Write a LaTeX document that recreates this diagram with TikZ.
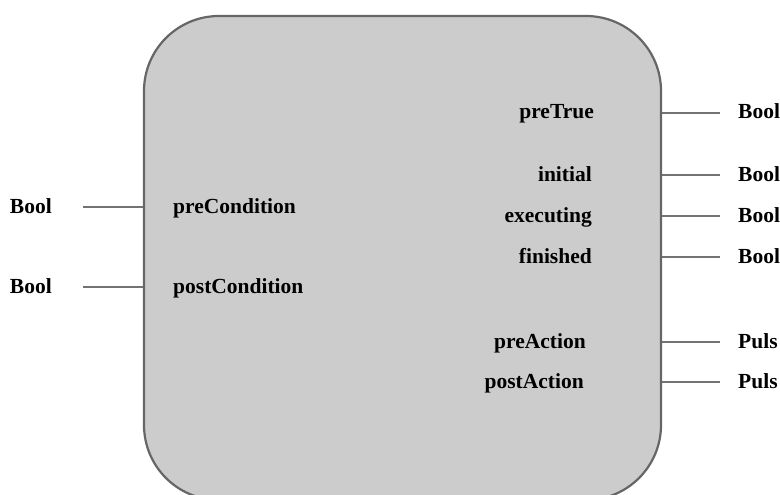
\documentclass[tikz,border=0pt]{standalone}
\usepackage{fontspec}
\setmainfont{Liberation Serif}
\usetikzlibrary{positioning}

\begin{document}
\begin{tikzpicture}[x=1pt, y=-1pt, font=\bfseries\fontsize{21.5}{24}\selectfont,
    lbl/.style={inner ysep=0pt, text height=13pt, text depth=1pt},
    typ/.style={lbl, inner xsep=18pt, anchor=west},
    pin/.style={draw=black!55, line width=2.4pt}]
  \useasboundingbox (0,0) rectangle (780,495);
  % function block
  \begin{scope}
    \clip (0,0) rectangle (780,495);
    \node[draw=black!60, line width=2.2pt, fill=black!20, rounded corners=75pt,
          minimum width=517pt, minimum height=484pt, inner sep=0pt] (blk) at (402.5,258) {};
  \end{scope}
  % inputs
  \foreach \nm/\y in {preCondition/207, postCondition/287} {
    \node[lbl, anchor=west, inner xsep=0pt] (in-\nm) at (173,\y) {\nm};
    \node[typ, anchor=east, inner xsep=31pt] (ti-\nm) at (83,\y) {Bool};
    \draw[pin] (ti-\nm.east) -- (blk.west |- in-\nm);
  }
  % outputs
  \foreach \nm/\y/\x/\t in {preTrue/113/594/Bool, initial/175/592/Bool,
      executing/216/592/Bool, finished/257/592/Bool,
      preAction/342/586/Puls, postAction/382/584/Puls} {
    \node[lbl, anchor=east, inner xsep=0pt] (out-\nm) at (\x,\y) {\nm};
    \node[typ] (to-\nm) at (720,\y) {\t};
    \draw[pin] (blk.east |- out-\nm) -- (to-\nm.west);
  }
\end{tikzpicture}
\end{document}
